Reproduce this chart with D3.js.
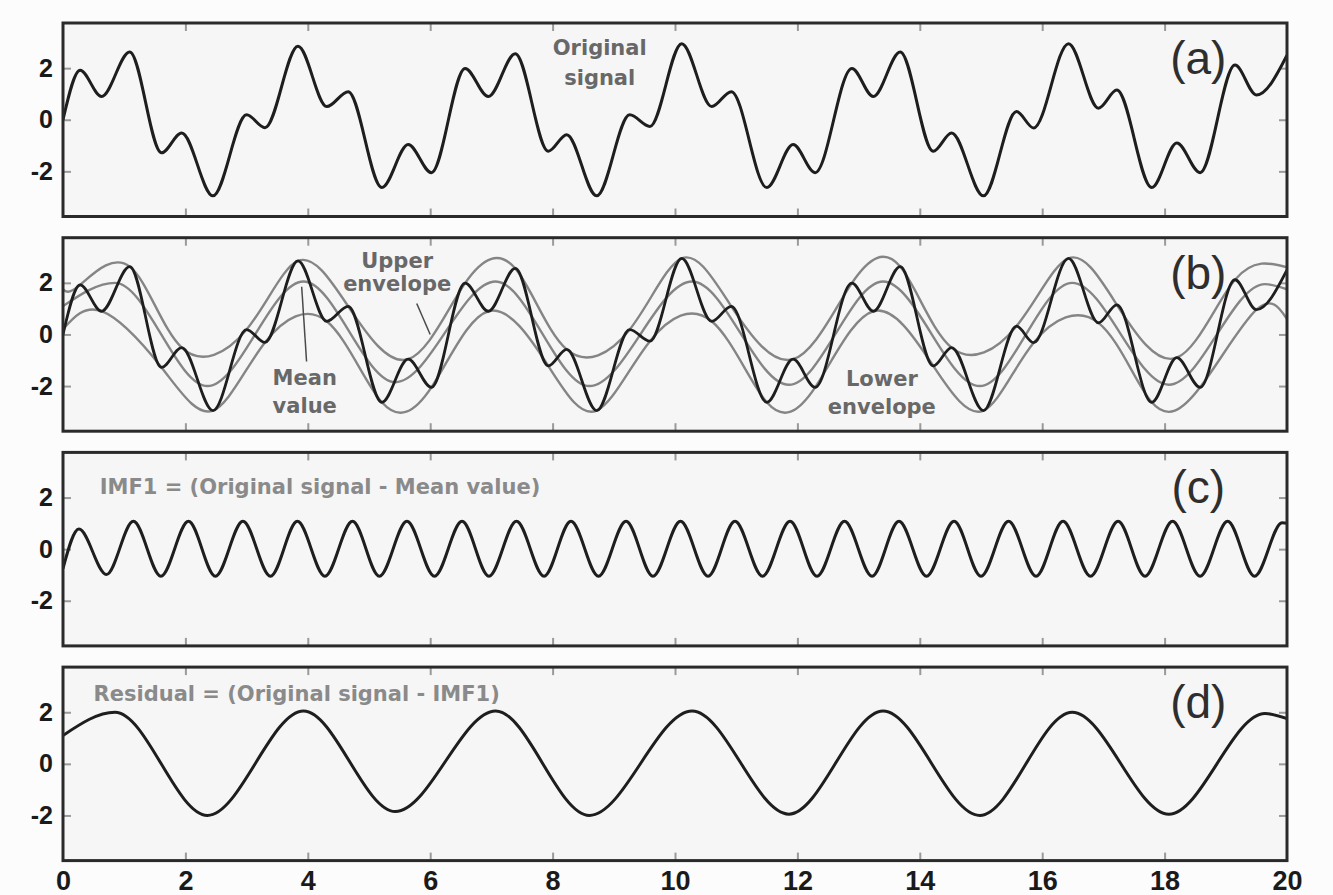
<!DOCTYPE html>
<html>
<head>
<meta charset="utf-8">
<script src="https://cdn.jsdelivr.net/npm/d3@7"></script>
<style>
  html, body { margin: 0; padding: 0; background: #fcfcfc; }
  svg { display: block; }
</style>
</head>
<body>
<svg id="chart" width="1333" height="895"></svg>
<script>
// ---------------- DATA ----------------
const xTicks = [0, 2, 4, 6, 8, 10, 12, 14, 16, 18, 20];
const yTicks = [-2, 0, 2];
const panelLabels = ["(a)", "(b)", "(c)", "(d)"];

// Original signal: extrema
const signalX = [0, 0.28, 0.63, 1.09, 1.61, 1.94, 2.45, 3.0, 3.3, 3.84, 4.31, 4.66, 5.21, 5.64, 6.02,
                 6.57, 6.95, 7.39, 7.93, 8.23, 8.72, 9.26, 9.59, 10.11, 10.6, 10.92, 11.5, 11.93, 12.29,
                 12.89, 13.24, 13.68, 14.22, 14.52, 15.04, 15.58, 15.86, 16.43, 16.92, 17.22, 17.79, 18.2,
                 18.58, 19.15, 19.5, 20];
const signalY = [0.0, 1.92, 0.9, 2.63, -1.28, -0.51, -2.95, 0.19, -0.31, 2.85, 0.51, 1.09, -2.63, -0.96, -2.05,
                 1.99, 0.9, 2.56, -1.22, -0.58, -2.95, 0.19, -0.26, 2.95, 0.51, 1.09, -2.63, -0.96, -2.05,
                 1.99, 0.9, 2.63, -1.22, -0.51, -2.95, 0.32, -0.32, 2.95, 0.45, 1.15, -2.63, -0.9,
                 -2.05, 2.12, 0.96, 2.5];

// Upper envelope (through the maxima), panel (b)
const upperX = [0, 0.28, 1.09, 1.94, 3.0, 3.84, 4.66, 5.64, 6.57, 7.39, 8.23, 9.26, 10.11, 10.92, 11.93,
                12.89, 13.68, 14.52, 15.58, 16.43, 17.22, 18.2, 19.15, 20];
const upperY = [1.75, 1.92, 2.63, -0.51, 0.19, 2.85, 1.09, -0.96, 1.99, 2.56, -0.58, 0.19, 2.95, 1.09, -0.96,
                1.99, 2.63, -0.51, 0.32, 2.95, 1.15, -0.9, 2.12, 2.6];

// Lower envelope (through the minima), panel (b)
const lowerX = [0, 0.63, 1.61, 2.45, 3.3, 4.31, 5.21, 6.02, 6.95, 7.93, 8.72, 9.59, 10.6, 11.5, 12.29,
                13.24, 14.22, 15.04, 15.86, 16.92, 17.79, 18.58, 19.5, 20];
const lowerY = [0.2, 0.9, -1.28, -2.95, -0.31, 0.51, -2.63, -2.05, 0.9, -1.22, -2.95, -0.26, 0.51, -2.63, -2.05,
                0.9, -1.22, -2.95, -0.32, 0.45, -2.63, -2.05, 0.96, 0.6];

// IMF1: extrema
const imfX = [0, 0.26, 0.71, 1.15, 1.60, 2.05, 2.49, 2.94, 3.39, 3.83, 4.28, 4.73, 5.17, 5.62, 6.07,
              6.52, 6.96, 7.41, 7.86, 8.30, 8.75, 9.20, 9.64, 10.09, 10.54, 10.98, 11.43, 11.88, 12.32,
              12.77, 13.22, 13.66, 14.11, 14.56, 15.00, 15.45, 15.90, 16.34, 16.79, 17.24, 17.68, 18.13,
              18.58, 19.03, 19.47, 19.92, 20];
const imfY = [-0.75, 0.78, -0.98, 1.08, -1.05, 1.08, -1.05, 1.08, -1.05, 1.08, -1.05, 1.08, -1.05, 1.08, -1.05,
              1.08, -1.05, 1.08, -1.05, 1.08, -1.05, 1.08, -1.05, 1.08, -1.05, 1.08, -1.05, 1.08, -1.05,
              1.08, -1.05, 1.08, -1.05, 1.08, -1.05, 1.08, -1.05, 1.08, -1.05, 1.08, -1.05, 1.08,
              -1.05, 1.08, -1.05, 1.02, 1.0];

// Residual (= mean value): extrema
const residualX = [0, 0.85, 2.36, 3.93, 5.43, 7.07, 8.6, 10.28, 11.86, 13.4, 14.98, 16.49, 18.07, 19.64, 20];
const residualY = [1.1, 2.0, -2.0, 2.05, -1.85, 2.05, -2.0, 2.05, -1.95, 2.05, -2.0, 2.0, -1.95, 1.95, 1.75];

// ---------------- LAYOUT ----------------
const svg = d3.select("#chart");
const left = 63, right = 1287;
const panelH = 193.5, panelStep = 214.7, firstTop = 23;
const yDomain = [-3.75, 3.75];

const x = d3.scaleLinear().domain([0, 20]).range([left, right]);
const zip = (xs, ys) => xs.map((v, i) => [v, ys[i]]);

const tickFont = "'Liberation Sans', Arial, sans-serif";
const annFont = "'DejaVu Sans', sans-serif";

const panels = [0, 1, 2, 3].map(i => {
  const top = firstTop + i * panelStep;
  const y = d3.scaleLinear().domain(yDomain).range([top + panelH, top]);
  return { i, top, y };
});

svg.append("rect").attr("width", 1333).attr("height", 895).attr("fill", "#fcfcfc");

panels.forEach(p => {
  const g = svg.append("g");
  const y = p.y;
  // panel background
  g.append("rect")
    .attr("x", left).attr("y", p.top)
    .attr("width", right - left).attr("height", panelH)
    .attr("fill", "#f6f6f6");

  // clip
  const clipId = "clip" + p.i;
  svg.append("clipPath").attr("id", clipId)
    .append("rect").attr("x", left).attr("y", p.top)
    .attr("width", right - left).attr("height", panelH);

  // ticks (inside, MATLAB style)
  const tickColor = "#9a9a9a";
  const yAxisL = g.append("g").attr("transform", `translate(${left},0)`)
    .call(d3.axisLeft(y).tickValues(yTicks).tickSize(-8).tickPadding(10).tickFormat(d => String(d)));
  const yAxisR = g.append("g").attr("transform", `translate(${right},0)`)
    .call(d3.axisRight(y).tickValues(yTicks).tickSize(-8).tickFormat(""));
  const xAxisT = g.append("g").attr("transform", `translate(0,${p.top})`)
    .call(d3.axisTop(x).tickValues(xTicks.slice(1, -1)).tickSize(-8).tickFormat(""));
  const xAxisB = g.append("g").attr("transform", `translate(0,${p.top + panelH})`)
    .call(d3.axisBottom(x).tickValues(p.i === 3 ? xTicks : xTicks.slice(1, -1))
      .tickSize(-8).tickPadding(10).tickFormat(p.i === 3 ? (d => String(d)) : ""));
  [yAxisL, yAxisR, xAxisT, xAxisB].forEach(a => {
    a.select(".domain").remove();
    a.selectAll(".tick line").attr("stroke", tickColor).attr("stroke-width", 2);
  });
  yAxisL.selectAll(".tick text")
    .attr("font-family", tickFont).attr("font-weight", "bold")
    .attr("font-size", 25).attr("fill", "#1a1a1a");
  if (p.i === 3) {
    xAxisB.selectAll(".tick text")
      .attr("font-family", tickFont).attr("font-weight", "bold")
      .attr("font-size", 27).attr("fill", "#1a1a1a");
    xAxisB.selectAll(".tick").filter(d => d === 0 || d === 20).select("line").remove();
  }

  const plot = g.append("g").attr("clip-path", `url(#${clipId})`);
  const lineMono = d3.line().x(d => x(d[0])).y(d => y(d[1])).curve(d3.curveMonotoneX);
  const lineNat = d3.line().x(d => x(d[0])).y(d => y(d[1])).curve(d3.curveNatural);

  if (p.i === 0) {
    plot.append("path").datum(zip(signalX, signalY))
      .attr("d", lineMono).attr("fill", "none").attr("stroke", "#1e1e1e").attr("stroke-width", 3)
      .attr("stroke-linejoin", "round");
  } else if (p.i === 1) {
    const gray = "#858585";
    plot.append("path").datum(zip(upperX, upperY))
      .attr("d", lineNat).attr("fill", "none").attr("stroke", gray).attr("stroke-width", 2.4);
    plot.append("path").datum(zip(lowerX, lowerY))
      .attr("d", lineNat).attr("fill", "none").attr("stroke", gray).attr("stroke-width", 2.4);
    plot.append("path").datum(zip(residualX, residualY))
      .attr("d", lineMono).attr("fill", "none").attr("stroke", gray).attr("stroke-width", 2.4);
    plot.append("path").datum(zip(signalX, signalY))
      .attr("d", lineMono).attr("fill", "none").attr("stroke", "#1e1e1e").attr("stroke-width", 2.8)
      .attr("stroke-linejoin", "round");
  } else if (p.i === 2) {
    plot.append("path").datum(zip(imfX, imfY))
      .attr("d", lineMono).attr("fill", "none").attr("stroke", "#1e1e1e").attr("stroke-width", 3);
  } else {
    plot.append("path").datum(zip(residualX, residualY))
      .attr("d", lineMono).attr("fill", "none").attr("stroke", "#1e1e1e").attr("stroke-width", 3);
  }

  // frame
  g.append("rect")
    .attr("x", left).attr("y", p.top)
    .attr("width", right - left).attr("height", panelH)
    .attr("fill", "none").attr("stroke", "#2a2a2a").attr("stroke-width", 3);

  // panel label
  g.append("text")
    .attr("x", x(18.55)).attr("y", y(2.4))
    .attr("text-anchor", "middle").attr("dominant-baseline", "central")
    .attr("font-family", tickFont).attr("font-size", 46).attr("fill", "#2e2e2e")
    .text(panelLabels[p.i]);
});

// ---------------- ANNOTATIONS ----------------
function ann(panel, lines, xv, yvs, anchor, color) {
  const y = panels[panel].y;
  lines.forEach((t, k) => {
    svg.append("text")
      .attr("x", x(xv)).attr("y", y(yvs[k]))
      .attr("text-anchor", anchor).attr("dominant-baseline", "central")
      .attr("font-family", annFont).attr("font-weight", "bold").attr("font-size", 21)
      .attr("fill", color).text(t);
  });
}
function leader(panel, x1, y1, x2, y2) {
  const y = panels[panel].y;
  svg.append("line")
    .attr("x1", x(x1)).attr("y1", y(y1)).attr("x2", x(x2)).attr("y2", y(y2))
    .attr("stroke", "#4a4a4a").attr("stroke-width", 1.5);
}

const annColor = "#686868";
ann(0, ["Original", "signal"], 8.77, [2.79, 1.63], "middle", annColor);
ann(1, ["Upper", "envelope"], 5.46, [2.83, 1.94], "middle", annColor);
leader(1, 5.78, 1.2, 6.0, 0.0);
ann(1, ["Mean", "value"], 3.95, [-1.67, -2.79], "middle", annColor);
leader(1, 3.98, -1.05, 3.9, 1.85);
ann(1, ["Lower", "envelope"], 13.38, [-1.71, -2.83], "middle", annColor);
ann(2, ["IMF1 = (Original signal - Mean value)"], 0.6, [2.4], "start", "#8a8a8a");
ann(3, ["Residual = (Original signal - IMF1)"], 0.5, [2.69], "start", "#8a8a8a");
</script>
</body>
</html>
